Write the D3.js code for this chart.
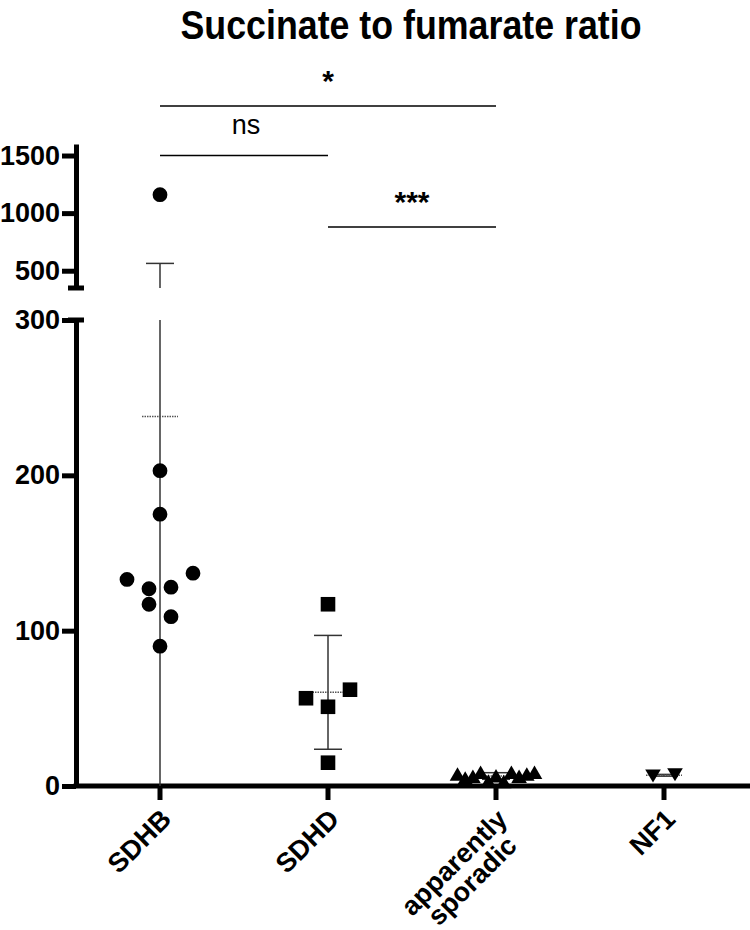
<!DOCTYPE html>
<html>
<head>
<meta charset="utf-8">
<script src="https://cdn.jsdelivr.net/npm/d3@7"></script>
<style>
  body { margin: 0; background: #fff; }
  text { font-family: "Liberation Sans", Arial, sans-serif; }
</style>
</head>
<body>
<svg id="chart" width="750" height="930"></svg>
<script>
// categories and values
const groups = ['SDHB', 'SDHD', 'apparently sporadic', 'NF1'];
const sdhb = [1160, 203, 175, 133, 127, 128, 137, 117, 109, 90];
const sdhd = [117, 56.5, 51, 62, 15];
const sporadic = [7.6, 5.0, 6.1, 8.7, 3.0, 6.5, 2.8, 8.7, 6.1, 7.6, 8.7];
const nf1 = [6.5, 7.3];
const lowerTicks = [0, 100, 200, 300];
const upperTicks = [500, 1000, 1500];
const brackets = [
  { from: 'SDHB', to: 'apparently sporadic', y: 1930, label: '*' },
  { from: 'SDHB', to: 'SDHD', y: 1500, label: 'ns' },
  { from: 'SDHD', to: 'apparently sporadic', y: 880, label: '***' }
];
const series = [sdhb, sdhd, sporadic, nf1];
const shapes = ['circle', 'square', 'up', 'down'];

const svg = d3.select('#chart');

const x = d3.scaleBand().domain(groups).range([76, 748]);
const cx = g => x(g) + x.bandwidth() / 2;

// broken y axis: two linear segments
const yLow = d3.scaleLinear().domain([0, 300]).range([786, 320]);
const yHigh = d3.scaleLinear().domain([350, 1600]).range([288, 144]);
const yPos = v => v <= 300 ? yLow(v) : yHigh(v);

// title
svg.append('text')
  .attr('x', 411).attr('y', 39)
  .attr('text-anchor', 'middle')
  .attr('font-size', 40).attr('font-weight', 'bold')
  .attr('textLength', 461).attr('lengthAdjust', 'spacingAndGlyphs')
  .text('Succinate to fumarate ratio');

// y axes
function styleAxis(g) {
  g.select('.domain').attr('stroke', '#000').attr('stroke-width', 5);
  g.selectAll('.tick line').attr('stroke', '#000').attr('stroke-width', 5);
  g.selectAll('.tick text')
    .attr('fill', '#000').attr('font-size', 27).attr('font-weight', 'bold')
    .attr('font-family', '"Liberation Sans", Arial, sans-serif');
}

svg.append('g')
  .attr('transform', 'translate(76,0)')
  .call(d3.axisLeft(yLow).tickValues(lowerTicks).tickFormat(d3.format('d'))
    .tickSize(14).tickSizeOuter(0).tickPadding(2))
  .call(styleAxis);

svg.append('g')
  .attr('transform', 'translate(76,0)')
  .call(d3.axisLeft(yHigh).tickValues(upperTicks).tickFormat(d3.format('d'))
    .tickSize(14).tickSizeOuter(0).tickPadding(2))
  .call(styleAxis);

// caps at the axis break
[yLow(300), yHigh(350)].forEach(yy => {
  svg.append('line')
    .attr('x1', 68).attr('x2', 84).attr('y1', yy).attr('y2', yy)
    .attr('stroke', '#000').attr('stroke-width', 5);
});

// x axis
const xAxis = svg.append('g')
  .attr('transform', `translate(0,${yLow(0)})`)
  .call(d3.axisBottom(x).tickSize(14).tickSizeOuter(0));
xAxis.select('.domain').remove();
xAxis.selectAll('.tick text').remove();
xAxis.selectAll('.tick line').attr('stroke', '#000').attr('stroke-width', 5);
svg.append('line')
  .attr('x1', 73.5).attr('x2', 750).attr('y1', yLow(0)).attr('y2', yLow(0))
  .attr('stroke', '#000').attr('stroke-width', 5);

// rotated category labels, multi-line centred
groups.forEach(g => {
  const lines = g.split(' ');
  const t = svg.append('text')
    .attr('transform', `translate(${cx(g) - 1},${yLow(0) + 21}) rotate(-45)`)
    .attr('font-size', 27).attr('font-weight', 'bold')
    .attr('text-anchor', 'middle');
  const spans = lines.map((l, i) => t.append('tspan').attr('dy', i === 0 ? '0.72em' : '0.95em').text(l));
  const w = d3.max(spans, s => s.node().getComputedTextLength());
  spans.forEach(s => s.attr('x', -w / 2));
});

// mean and SD bars
function vline(a, b) {
  const segs = [];
  if (a < 300) segs.push([yLow(a), yLow(Math.min(b, 300))]);
  if (b > 350) segs.push([yHigh(Math.max(a, 350)), yHigh(b)]);
  return segs;
}

series.forEach((vals, gi) => {
  const c = cx(groups[gi]);
  const m = d3.mean(vals), sd = d3.deviation(vals);
  const lo = Math.max(0, m - sd), hi = m + sd;
  vline(lo, hi).forEach(([y1, y2]) => {
    svg.append('line').attr('x1', c).attr('x2', c).attr('y1', y1).attr('y2', y2)
      .attr('stroke', '#333').attr('stroke-width', 1.5);
  });
  const caps = [hi];
  if (m - sd > 0) caps.push(m - sd);
  caps.forEach(v => {
    svg.append('line').attr('x1', c - 14).attr('x2', c + 14).attr('y1', yPos(v)).attr('y2', yPos(v))
      .attr('stroke', '#333').attr('stroke-width', 1.5);
  });
  svg.append('line').attr('x1', c - 18).attr('x2', c + 18).attr('y1', yPos(m)).attr('y2', yPos(m))
    .attr('stroke', '#555').attr('stroke-width', 1.5).attr('stroke-dasharray', '1.5,1');
});

// scatter layout: points with close values share a row, spread around the centre
function layout(values) {
  const pts = values.map((v, i) => ({ v, i, y: yPos(v) }));
  const rows = [];
  pts.slice().sort((a, b) => a.y - b.y).forEach(p => {
    const row = rows[rows.length - 1];
    if (row && p.y - row[0].y <= 18) row.push(p); else rows.push([p]);
  });
  rows.forEach(row => {
    row.sort((a, b) => a.i - b.i);
    const n = row.length;
    const step = n > 1 ? Math.min(22, 77 / (n - 1)) : 0;
    row.forEach((p, k) => { p.dx = (k - (n - 1) / 2) * step; });
  });
  return pts;
}

const symbolPath = {
  circle: 'M7.4,0A7.4,7.4 0 1,1 -7.4,0A7.4,7.4 0 1,1 7.4,0Z',
  square: 'M-7.3,-7.3H7.3V7.3H-7.3Z',
  up: 'M0,-7L7.8,6.5H-7.8Z',
  down: 'M0,6.5L7.8,-6.5H-7.8Z'
};

series.forEach((vals, gi) => {
  const c = cx(groups[gi]);
  svg.append('g').selectAll('path')
    .data(layout(vals))
    .enter().append('path')
    .attr('d', symbolPath[shapes[gi]])
    .attr('transform', d => `translate(${c + d.dx},${d.y})`)
    .attr('fill', '#000');
});

// significance brackets
brackets.forEach(b => {
  const yy = yHigh(b.y);
  svg.append('line')
    .attr('x1', cx(b.from)).attr('x2', cx(b.to)).attr('y1', yy).attr('y2', yy)
    .attr('stroke', '#000').attr('stroke-width', 1.5);
  svg.append('text')
    .attr('x', (cx(b.from) + cx(b.to)) / 2 + (b.label === 'ns' ? 2 : 0))
    .attr('y', yy - (b.label === 'ns' ? 22 : 15))
    .attr('text-anchor', 'middle')
    .attr('font-size', b.label === 'ns' ? 27 : 30)
    .attr('font-weight', b.label === 'ns' ? 'normal' : 'bold')
    .text(b.label);
});
</script>
</body>
</html>
